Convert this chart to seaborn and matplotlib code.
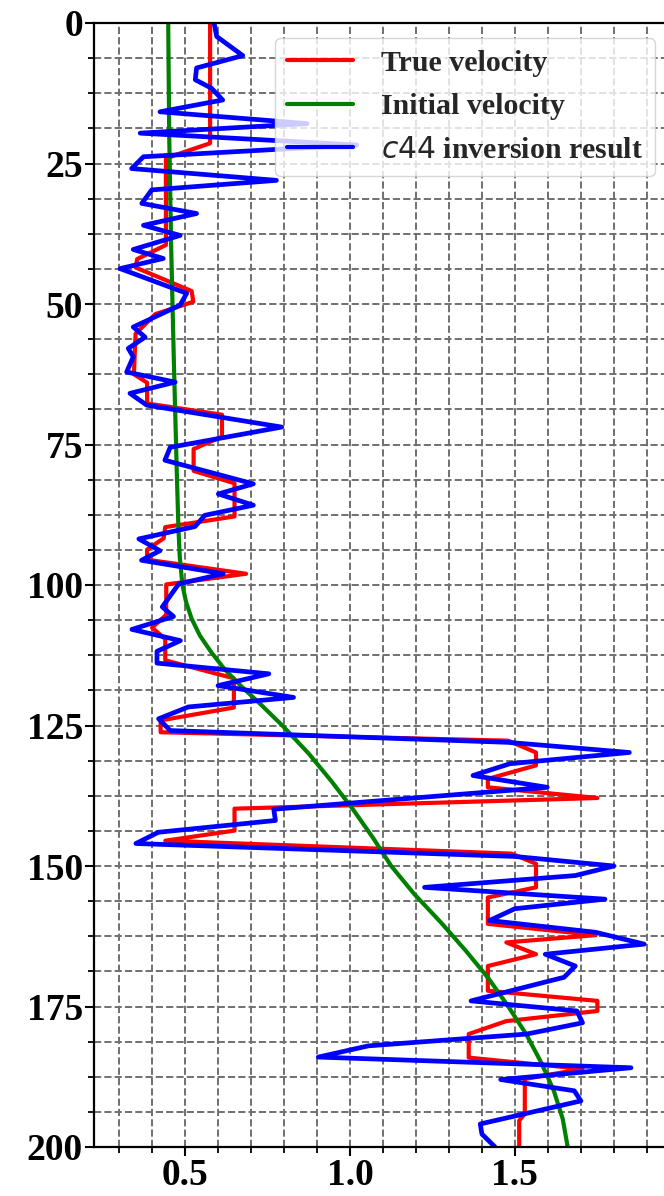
import matplotlib
matplotlib.use("Agg")
import matplotlib.pyplot as plt
from matplotlib.ticker import AutoMinorLocator
import seaborn as sns

# Depth (vertical axis) and velocity (horizontal axis) of each profile
true_depth = [0.0, 21.4, 23.5, 24.2, 39.5, 42.0, 43.5, 47.7, 49.6, 51.8, 55.3, 62.5,
              64.0, 67.7, 69.7, 73.6, 75.8, 79.7, 81.9, 87.8, 89.7, 91.7, 93.7, 95.5,
              98.0, 99.9, 105.3, 107.6, 109.6, 113.4, 116.6, 121.8, 124.1, 126.2,
              127.7, 129.8, 132.1, 134.5, 136.0, 137.9, 139.8, 143.7, 145.5, 147.8,
              149.6, 153.8, 155.6, 160.3, 162.3, 163.6, 165.7, 167.8, 172.2, 174.0,
              175.8, 177.6, 179.9, 184.1, 186.1, 187.9, 194.1, 195.3, 200.0]
true_vel = [0.576, 0.576, 0.47, 0.442, 0.442, 0.355, 0.35, 0.52, 0.525, 0.41, 0.35, 0.345,
            0.385, 0.385, 0.612, 0.612, 0.526, 0.526, 0.65, 0.65, 0.44, 0.435, 0.385, 0.385,
            0.685, 0.443, 0.443, 0.40, 0.44, 0.44, 0.648, 0.648, 0.426, 0.426,
            1.479, 1.564, 1.564, 1.418, 1.418, 1.75, 0.65, 0.65, 0.44, 1.49,
            1.564, 1.564, 1.418, 1.418, 1.745, 1.474, 1.564, 1.418, 1.418, 1.75,
            1.75, 1.474, 1.36, 1.36, 1.705, 1.53, 1.53, 1.513, 1.513]

init_depth = [0, 20, 40, 60, 80, 90, 95, 100, 103, 106, 109, 112, 115, 118, 121, 125,
              130, 135, 140, 145, 150, 155, 160, 165, 170, 175, 180, 185, 190, 195, 200]
init_vel = [0.449, 0.452, 0.458, 0.466, 0.475, 0.480, 0.484, 0.492, 0.503, 0.52, 0.545,
            0.58, 0.62, 0.67, 0.725, 0.795, 0.875, 0.945, 1.01, 1.07, 1.125, 1.195,
            1.275, 1.35, 1.42, 1.48, 1.535, 1.58, 1.618, 1.645, 1.66]

inv_depth = [0.0, 2.4, 5.8, 8.0, 10.1, 11.6, 13.7, 15.8, 17.9, 19.6, 21.7, 23.8, 25.9,
             28.0, 29.7, 32.1, 33.9, 36.0, 37.8, 40.3, 41.9, 43.7, 48.1, 50.2, 54.1,
             55.9, 57.9, 59.4, 62.1, 63.9, 65.9, 68.0, 71.9, 75.5, 77.8, 82.0, 83.8,
             85.8, 87.6, 89.6, 91.8, 93.9, 95.6, 98.0, 99.8, 103.9, 105.6, 107.9,
             109.9, 111.8, 113.9, 115.8, 117.9, 120.0, 121.7, 123.8, 125.9, 128.0,
             129.8, 131.8, 133.9, 136.0, 139.9, 141.9, 144.0, 146.0, 148.3, 150.0,
             151.7, 153.8, 155.9, 157.6, 159.7, 161.8, 163.9, 165.7, 167.8, 169.8,
             174.0, 175.8, 177.9, 179.9, 182.0, 184.0, 185.9, 188.0, 190.0, 191.8,
             195.9, 197.7, 200.0]
inv_vel = [0.588, 0.596, 0.675, 0.535, 0.531, 0.58, 0.614, 0.424, 0.87, 0.364, 1.02, 0.374,
           0.338, 0.777, 0.399, 0.369, 0.535, 0.374, 0.485, 0.343, 0.434, 0.303, 0.505,
           0.485, 0.343, 0.379, 0.328, 0.343, 0.323, 0.47, 0.333, 0.384, 0.793, 0.455,
           0.439, 0.707, 0.601, 0.707, 0.56, 0.53, 0.36, 0.424, 0.368, 0.616, 0.481,
           0.431, 0.465, 0.339, 0.486, 0.415, 0.415, 0.754, 0.60, 0.829, 0.51, 0.42,
           0.455, 1.48, 1.847, 1.485, 1.373, 1.598, 0.769, 0.774, 0.419, 0.351, 1.50,
           1.80, 1.683, 1.226, 1.773, 1.50, 1.423, 1.745, 1.892, 1.592, 1.683, 1.649,
           1.367, 1.688, 1.705, 1.536, 1.056, 0.904, 1.852, 1.457, 1.68, 1.70, 1.395,
           1.40, 1.44]

y_ticks = [0, 25, 50, 75, 100, 125, 150, 175, 200]
x_ticks = [0.5, 1.0, 1.5]

sns.set_theme(style="white")
plt.rcParams["font.family"] = ["Liberation Serif", "DejaVu Serif"]
plt.rcParams["mathtext.fontset"] = "dejavusans"

fig = plt.figure(figsize=(6.64, 11.96), dpi=100)
ax = fig.add_axes([94 / 664, 49 / 1196, 570 / 664, 1124 / 1196])

sns.lineplot(x=true_vel, y=true_depth, sort=False, estimator=None, color="red",
             lw=3, ax=ax, label="True velocity")
sns.lineplot(x=init_vel, y=init_depth, sort=False, estimator=None, color="green",
             lw=3, ax=ax, label="Initial velocity")
sns.lineplot(x=inv_vel, y=inv_depth, sort=False, estimator=None, color="blue",
             lw=3.4, ax=ax, label=r"$c44$ inversion result")

ax.set_xlim(0.224, 1.952)
ax.set_ylim(200, 0)
ax.set_xticks(x_ticks)
ax.set_yticks(y_ticks)
ax.xaxis.set_minor_locator(AutoMinorLocator(5))
ax.yaxis.set_minor_locator(AutoMinorLocator(4))
ax.set_xlabel("")
ax.set_ylabel("")

ax.set_axisbelow(True)
ax.grid(which="both", ls="--", color="#707070", lw=1.4)

for side in ("left", "top", "bottom"):
    ax.spines[side].set_color("black")
    ax.spines[side].set_linewidth(1.6)
ax.spines["right"].set_visible(False)

ax.tick_params(which="major", direction="out", length=6.5, width=1.5, color="black",
               labelsize=27, labelcolor="black", left=True, bottom=True, pad=1.5)
ax.tick_params(which="minor", direction="out", length=4, width=1.3, color="black",
               left=True, bottom=True)
for lab in ax.get_xticklabels() + ax.get_yticklabels():
    lab.set_fontweight("bold")

leg = ax.legend(loc="upper right", bbox_to_anchor=(655 / 664, (1196 - 38) / 1196),
                bbox_transform=fig.transFigure, borderaxespad=0,
                prop={"family": ["Liberation Serif", "DejaVu Serif"], "weight": "bold",
                      "size": 21.5},
                framealpha=0.8, handlelength=2.2, handletextpad=0.95, labelspacing=0.55)
for line in leg.get_lines():
    line.set_linewidth(3)

fig.savefig("out.png", dpi=100)
